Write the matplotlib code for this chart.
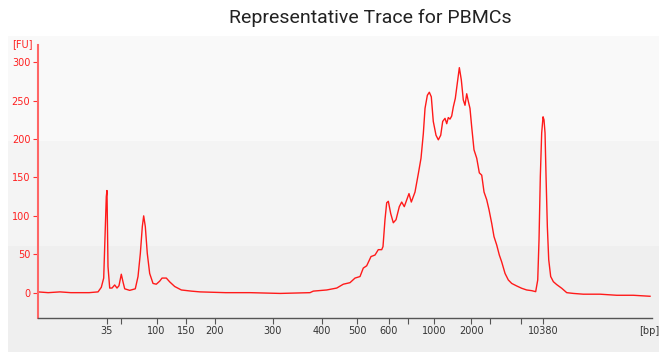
import matplotlib
matplotlib.use("Agg")
import matplotlib.pyplot as plt
from matplotlib.patches import Rectangle

# Electropherogram: migration time (s) vs fluorescence (FU)
time_s = [
    40.00, 41.5, 43.22, 44.8, 46.16, 47.5, 48.80, 49.28, 49.63, 49.78, 49.92,
    50.01, 50.11, 50.16, 50.26, 50.51, 50.85, 51.24, 51.58, 51.87, 52.21,
    52.46, 52.71, 53.44, 54.26, 54.66, 55.00, 55.29, 55.49, 55.73, 56.02,
    56.37, 56.86, 57.34, 57.84, 58.18, 58.81, 59.31, 60.04, 61.01, 62.47,
    63.75, 67.5, 71.08, 75.5, 79.87, 80.35, 82.32, 83.79, 84.75, 85.73,
    86.47, 87.20, 87.68, 88.18, 88.81, 89.40, 89.88, 90.38, 90.57, 90.86,
    91.11, 91.35, 91.70, 92.08, 92.48, 92.96, 93.31, 93.69, 94.05, 94.38,
    94.72, 95.26, 95.75, 96.14, 96.48, 96.73, 97.07, 97.36, 97.65, 97.94,
    98.34, 98.68, 99.03, 99.32, 99.66, 99.91, 100.14, 100.39, 100.64,
    100.88, 101.17, 101.46, 101.76, 102.05, 102.34, 102.59, 102.84, 103.08,
    103.32, 103.57, 103.91, 104.31, 104.69, 105.04, 105.38, 105.77, 106.11,
    106.51, 106.84, 107.24, 107.62, 107.97, 108.46, 108.94, 109.44, 110.17,
    110.90, 111.63, 112.37, 112.95, 113.25, 113.44, 113.63, 113.83, 114.03,
    114.17, 114.32, 114.47, 114.66, 114.86, 115.15, 115.54, 116.03, 116.77,
    117.50, 118.47, 119.93, 122.38, 124.83, 127.26, 129.71,
]
fluorescence = [
    1, 0, 1, 0, 0, 0, 1, 7, 19, 60, 97,
    125, 133, 97, 34, 6, 6, 10, 6, 9, 24,
    14, 5, 3, 5, 21, 51, 86, 100, 86, 51,
    25, 12, 11, 15, 19, 19, 14, 8, 3.5, 2,
    1, 0, 0, -1, 0, 2, 3.5, 6, 11, 13,
    19, 21, 32, 35, 47, 49, 56, 56, 60, 95,
    117, 119, 103, 91, 95, 112, 118, 112, 121, 129,
    118, 131, 155, 175, 207, 240, 257, 261, 255, 223,
    205, 199, 205, 223, 227, 220, 228, 226, 230,
    242, 253, 273, 293, 277, 251, 244, 259, 249,
    240, 216, 186, 175, 156, 153, 131, 121, 108,
    90, 73, 62, 49, 40, 25, 16.5, 12, 8.7,
    5.7, 3.5, 2.6, 1.3, 16.5, 69, 151, 208, 229,
    225, 208, 151, 86, 43, 21, 14.3, 10.5, 5.7,
    0, -1, -2, -2, -3.4, -3.4, -4.7,
]

# Ladder peaks (bp) and their migration times
ladder_time = [50.11, 52.17, 57.37, 61.69, 65.90, 74.40, 81.63, 86.80,
               91.41, 94.19, 98.09, 103.52, 106.21, 110.84, 114.07]
ladder_label = ["35", "", "100", "150", "200", "300", "400", "500",
                "600", "", "1000", "2000", "", "", "10380"]

fu_ticks = [0, 50, 100, 150, 200, 250, 300]

W, H = 659, 352
fig = plt.figure(figsize=(W / 100, H / 100), dpi=100)
fig.patch.set_facecolor("white")

# shaded background bands behind the plot
bands = [(36, 141, "#f9f9f9"), (141, 246, "#f4f4f4"), (246, 352, "#efefef")]
for top, bot, col in bands:
    fig.patches.append(Rectangle((8 / W, 1 - bot / H), 1 - 8 / W, (bot - top) / H,
                                 transform=fig.transFigure, facecolor=col,
                                 edgecolor="none", zorder=-10))

ax = fig.add_axes([38 / W, 1 - 318 / H, 614 / W, 273 / H])
ax.set_zorder(5)
ax.set_facecolor("none")
ax.plot(time_s, fluorescence, color="#ff1a1a", lw=1.0, solid_joinstyle="round")

ax.set_xlim(40, 130)
ax.set_ylim(-33, 322.5)

ax.set_xticks(ladder_time)
ax.set_xticklabels(ladder_label)
ax.set_yticks(fu_ticks)

for s in ("top", "right"):
    ax.spines[s].set_visible(False)
ax.spines["left"].set_color("#ff6666")
ax.spines["left"].set_linewidth(1.5)
ax.spines["bottom"].set_color("#555555")
ax.spines["bottom"].set_linewidth(1.0)

ax.tick_params(axis="x", direction="out", length=4, width=0.8, colors="#555555",
               labelcolor="#333333", labelsize=7, pad=2)
ax.tick_params(axis="y", direction="out", length=3.5, width=0.8, colors="#ff3333",
               labelcolor="#ff2020", labelsize=7, pad=2)

fig.text(12 / W, 1 - 44 / H, "[FU]", color="#ff2020", fontsize=7,
         ha="left", va="center")
fig.text(639 / W, 1 - 331 / H, "[bp]", color="#333333", fontsize=7,
         ha="left", va="center")

fig.text(370 / W, 1 - 18 / H, "Representative Trace for PBMCs",
         fontsize=14, family="Roboto", color="#222222", ha="center", va="center")

fig.savefig("out.png", dpi=100)
